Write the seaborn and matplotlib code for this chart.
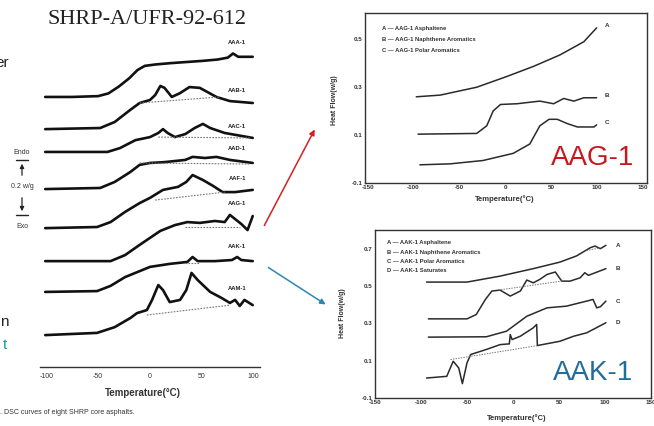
import matplotlib
matplotlib.use("Agg")
import matplotlib.pyplot as plt
from matplotlib.patches import FancyArrowPatch
from matplotlib.lines import Line2D
from matplotlib.ticker import MultipleLocator
import seaborn as sns

# --- Left panel: DSC curves of eight SHRP core asphalts (stacked, w/g) ---
core_names = ["AAA-1", "AAB-1", "AAC-1", "AAD-1", "AAF-1", "AAG-1", "AAK-1", "AAM-1"]

aaa_t = [-101, -75, -50, -40, -30, -20, -12, -5, 5, 20, 35, 50, 65, 75, 80, 85, 99]
aaa_hf = [0.982, 0.982, 0.985, 0.995, 1.02, 1.05, 1.08, 1.095, 1.1, 1.105, 1.109, 1.113, 1.118, 1.125, 1.14, 1.128, 1.128]
aab_t = [-101, -48, -34, -19, -10, 0, 5, 10, 14, 21, 29, 38, 48, 64, 77, 99]
aab_hf = [0.865, 0.869, 0.891, 0.935, 0.96, 0.971, 0.989, 1.022, 1.015, 0.982, 0.996, 1.018, 1.015, 0.982, 0.967, 0.96]
aac_t = [-101, -41, -29, -14, 0, 8, 12.5, 17, 24, 34, 43, 51, 58, 72, 99]
aac_hf = [0.782, 0.782, 0.796, 0.825, 0.836, 0.851, 0.865, 0.851, 0.836, 0.847, 0.869, 0.884, 0.869, 0.851, 0.833]
aad_t = [-101, -48, -34, -19, -10, 0, 14, 34, 41, 53, 64, 77, 99]
aad_hf = [0.647, 0.651, 0.673, 0.709, 0.735, 0.742, 0.745, 0.753, 0.764, 0.760, 0.764, 0.753, 0.742]
aaf_t = [-101, -51, -38, -24, -10, 0, 12.5, 27, 35, 41, 51, 61, 70, 82, 99]
aaf_hf = [0.505, 0.509, 0.527, 0.564, 0.596, 0.615, 0.644, 0.655, 0.673, 0.698, 0.68, 0.658, 0.636, 0.636, 0.644]
aag_t = [-101, -38, -24, -10, 10, 24, 36, 48, 62.5, 72, 77, 83, 88, 94, 99]
aag_hf = [0.385, 0.385, 0.407, 0.444, 0.495, 0.516, 0.527, 0.524, 0.531, 0.527, 0.553, 0.535, 0.520, 0.498, 0.549]
aak_t = [-101, -51, -38, -24, 0, 19, 36, 41, 46, 62.5, 79, 84, 88, 99]
aak_hf = [0.273, 0.276, 0.295, 0.327, 0.364, 0.375, 0.382, 0.4, 0.385, 0.385, 0.389, 0.4, 0.389, 0.385]
aam_t = [-101, -51, -34, -19, -12.5, -3, 2, 8, 12.5, 19, 29, 35, 40, 46, 58, 69, 77, 82, 86.5, 91, 99]
aam_hf = [0.116, 0.124, 0.145, 0.178, 0.196, 0.207, 0.244, 0.298, 0.28, 0.236, 0.244, 0.28, 0.342, 0.316, 0.273, 0.251, 0.233, 0.244, 0.222, 0.244, 0.225]

core_t = [aaa_t, aab_t, aac_t, aad_t, aaf_t, aag_t, aak_t, aam_t]
core_hf = [aaa_hf, aab_hf, aac_hf, aad_hf, aaf_hf, aag_hf, aak_hf, aam_hf]

# dashed baselines under the peaks (start/end temperature and heat flow), None = no baseline
core_base_t = [None, [-10, 67], [8, 96], [-10, 96], [5, 72], [34, 87], [34, 48], [-3, 77]]
core_base_hf = [None, [0.96, 0.982], [0.836, 0.833], [0.742, 0.738], [0.607, 0.636],
                [0.509, 0.509], [0.378, 0.378], [0.189, 0.225]]

# --- AAG-1 fractions ---
aag_names = ["A", "B", "C"]
aag_legend = ["AAG-1 Asphaltene", "AAG-1 Naphthene Aromatics", "AAG-1 Polar Aromatics"]
aag_a_t = [-97, -71, -31, 2, 31, 60, 86, 100]
aag_a_hf = [0.26, 0.267, 0.30, 0.345, 0.387, 0.435, 0.49, 0.548]
aag_b_t = [-95, -31, -20, -13, -5, 13, 31, 38, 53, 64, 75, 86, 100]
aag_b_hf = [0.104, 0.107, 0.139, 0.201, 0.228, 0.231, 0.239, 0.242, 0.231, 0.253, 0.242, 0.256, 0.256]
aag_c_t = [-93, -60, -24, 9, 27, 38, 48, 57, 68, 79, 97, 100]
aag_c_hf = [-0.024, -0.020, -0.006, 0.024, 0.063, 0.139, 0.166, 0.166, 0.148, 0.134, 0.134, 0.143]
aag_frac_t = [aag_a_t, aag_b_t, aag_c_t]
aag_frac_hf = [aag_a_hf, aag_b_hf, aag_c_hf]

# --- AAK-1 fractions ---
aak_names = ["A", "B", "C", "D"]
aak_legend = ["AAK-1 Asphaltene", "AAK-1 Naphthene Aromatics", "AAK-1 Polar Aromatics", "AAK-1 Saturates"]
aak_a_t = [-94, -50, -14, 22, 51, 69, 84, 89, 95, 101]
aak_a_hf = [0.521, 0.521, 0.553, 0.593, 0.628, 0.661, 0.705, 0.714, 0.70, 0.718]
aak_b_t = [-92, -50, -40, -30, -23, -14, -3, 8, 15, 22, 29, 37, 46, 53, 62, 73, 78, 82, 101]
aak_b_hf = [0.324, 0.324, 0.347, 0.428, 0.473, 0.478, 0.446, 0.473, 0.532, 0.517, 0.535, 0.562,
            0.575, 0.526, 0.526, 0.544, 0.571, 0.557, 0.593]
aak_c_t = [-92, -29, -7, 15, 37, 58, 80, 87, 91, 95, 101]
aak_c_hf = [0.226, 0.228, 0.258, 0.338, 0.383, 0.392, 0.419, 0.428, 0.383, 0.389, 0.419]
aak_d_t = [-94, -72, -65, -59, -55, -50, -46, -29, -14, -4, -3, -1, 8, 22, 25.7, 26.5, 51, 66, 80, 101]
aak_d_hf = [0.007, 0.016, 0.097, 0.061, -0.023, 0.088, 0.133, 0.160, 0.186, 0.19, 0.24, 0.213,
            0.231, 0.276, 0.294, 0.181, 0.204, 0.231, 0.249, 0.303]
aak_frac_t = [aak_a_t, aak_b_t, aak_c_t, aak_d_t]
aak_frac_hf = [aak_a_hf, aak_b_hf, aak_c_hf, aak_d_hf]
aak_base_t = [[80, 95], [-16, 58], None, [-68, 27]]
aak_base_hf = [[0.69, 0.705], [0.478, 0.530], None, [0.106, 0.181]]

W, H = 654, 426


def fx(px):
    return px / W


def fy(py):
    return 1 - py / H


def box(l, t, r, b):
    return [fx(l), fy(b), fx(r) - fx(l), fy(t) - fy(b)]


sns.set_style("white")
plt.rcParams["font.family"] = ["Liberation Sans", "DejaVu Sans"]
plt.rcParams["axes.unicode_minus"] = False

fig = plt.figure(figsize=(W / 100, H / 100), dpi=100)
fig.patch.set_facecolor("white")

# ---------------- left panel ----------------
axL = fig.add_axes(box(40, 40, 260, 367))
axL.patch.set_alpha(0)
for i, name in enumerate(core_names):
    sns.lineplot(x=core_t[i], y=core_hf[i], ax=axL, color="#111111", linewidth=1.9,
                 estimator=None, sort=False)
    if core_base_t[i] is not None:
        axL.plot(core_base_t[i], core_base_hf[i], color="#777777", lw=0.8, ls=(0, (1.5, 1.2)))
    tail = [v for t, v in zip(core_t[i], core_hf[i]) if t > 75]
    axL.text(84, max(tail) + 0.04, name, fontsize=4.2, fontweight="bold", ha="center",
             va="center", color="#222222")
axL.set_xlim(-106, 106)
axL.set_ylim(0, 327 / 275)
for s in ["top", "left", "right"]:
    axL.spines[s].set_visible(False)
axL.spines["bottom"].set_linewidth(1.0)
axL.spines["bottom"].set_color("#333333")
axL.set_yticks([])
axL.set_xticks([-100, -50, 0, 50, 100])
axL.xaxis.set_minor_locator(MultipleLocator(25))
axL.tick_params(axis="x", which="both", direction="inout", length=4, width=0.8,
                labelsize=5, pad=2, colors="#333333")
axL.set_xlabel("")
axL.set_ylabel("")
fig.text(fx(143), fy(393), "Temperature(°C)", fontsize=7, fontweight="bold",
         ha="center", va="center", color="#333333")
fig.text(fx(0), fy(412), ". DSC curves of eight SHRP core asphalts.", fontsize=5,
         ha="left", va="center", color="#333333")
fig.text(fx(147), fy(20), "SHRP-A/UFR-92-612", fontsize=16, ha="center", va="center",
         family=["Liberation Serif", "DejaVu Serif"], color="#222222")

# scale bar (Endo / 0.2 w/g / Exo)
fig.text(fx(22), fy(152), "Endo", fontsize=5, ha="center", va="center", color="#333333")
fig.text(fx(22), fy(186), "0.2 w/g", fontsize=5, ha="center", va="center", color="#333333")
fig.text(fx(22), fy(226), "Exo", fontsize=5, ha="center", va="center", color="#333333")
for yb in [160, 215]:
    fig.add_artist(Line2D([fx(16), fx(28)], [fy(yb), fy(yb)], color="#222222", lw=1.0))
fig.add_artist(FancyArrowPatch((fx(22), fy(178)), (fx(22), fy(161)), transform=fig.transFigure,
                               arrowstyle="-|>", mutation_scale=6, color="#222222", lw=0.9))
fig.add_artist(FancyArrowPatch((fx(22), fy(195)), (fx(22), fy(214)), transform=fig.transFigure,
                               arrowstyle="-|>", mutation_scale=6, color="#222222", lw=0.9))

# cut-off slide text on the left edge
fig.text(fx(9), fy(63), "er", fontsize=11, ha="right", va="center", color="#222222")
fig.text(fx(9), fy(322), "n", fontsize=11, ha="right", va="center", color="#222222")
fig.text(fx(7), fy(345), "t", fontsize=11, ha="right", va="center", color="#1a9e8f")


def style_panel(ax, yticks):
    ax.set_xticks([-150, -100, -50, 0, 50, 100, 150])
    ax.xaxis.set_minor_locator(MultipleLocator(25))
    ax.set_yticks(yticks)
    ax.set_yticklabels([f"{v:g}" for v in yticks])
    ax.tick_params(which="both", direction="in", length=2.5, width=0.7, labelsize=4.5,
                   pad=1.5, colors="#333333")
    for lab in ax.get_xticklabels() + ax.get_yticklabels():
        lab.set_fontweight("bold")
    for s in ax.spines.values():
        s.set_linewidth(1.0)
        s.set_color("#333333")
    ax.set_xlabel("")
    ax.set_ylabel("")


# ---------------- AAG-1 panel ----------------
axG = fig.add_axes(box(365, 13, 647, 183))
for i, lab in enumerate(aag_names):
    sns.lineplot(x=aag_frac_t[i], y=aag_frac_hf[i], ax=axG, color="#2a2a2a", linewidth=1.1,
                 estimator=None, sort=False)
    axG.text(aag_frac_t[i][-1] + 11, aag_frac_hf[i][-1] + 0.01, lab, fontsize=4.5,
             fontweight="bold", ha="center", va="center", color="#333333")
    axG.text(0.06, 0.906 - i * 0.062, f"{lab} — {aag_legend[i]}", transform=axG.transAxes,
             fontsize=4.2, fontweight="bold", ha="left", va="center", color="#333333")
axG.set_xlim(-153, 155)
axG.set_ylim(-0.1, 0.61)
style_panel(axG, [-0.1, 0.1, 0.3, 0.5])
fig.text(fx(335), fy(100), "Heat Flow(w/g)", rotation=90, fontsize=5, fontweight="bold",
         ha="center", va="center", color="#333333")
fig.text(fx(505), fy(199), "Temperature(°C)", fontsize=5.5, fontweight="bold",
         ha="center", va="center", color="#333333")
fig.text(fx(593), fy(158), "AAG-1", fontsize=20, color="#c8171e", ha="center", va="center")

# ---------------- AAK-1 panel ----------------
axK = fig.add_axes(box(375, 230, 651, 398))
for i, lab in enumerate(aak_names):
    sns.lineplot(x=aak_frac_t[i], y=aak_frac_hf[i], ax=axK, color="#2a2a2a", linewidth=1.1,
                 estimator=None, sort=False)
    if aak_base_t[i] is not None:
        axK.plot(aak_base_t[i], aak_base_hf[i], color="#777777", lw=0.7, ls=(0, (1.5, 1.2)))
    axK.text(aak_frac_t[i][-1] + 13, aak_frac_hf[i][-1], lab, fontsize=4.5,
             fontweight="bold", ha="center", va="center", color="#333333")
    axK.text(0.043, 0.923 - i * 0.054, f"{lab} — {aak_legend[i]}", transform=axK.transAxes,
             fontsize=4.2, fontweight="bold", ha="left", va="center", color="#333333")
axK.set_xlim(-150, 150)
axK.set_ylim(-0.1, 0.8)
style_panel(axK, [-0.1, 0.1, 0.3, 0.5, 0.7])
fig.text(fx(343), fy(313), "Heat Flow(w/g)", rotation=90, fontsize=5, fontweight="bold",
         ha="center", va="center", color="#333333")
fig.text(fx(517), fy(418), "Temperature(°C)", fontsize=5.5, fontweight="bold",
         ha="center", va="center", color="#333333")
fig.text(fx(593), fy(373), "AAK-1", fontsize=20, color="#1f6e9c", ha="center", va="center")

# arrows from the AAG-1 / AAK-1 curves to the fraction panels
fig.add_artist(FancyArrowPatch((fx(263), fy(228)), (fx(316), fy(127)), transform=fig.transFigure,
                               arrowstyle="-|>", mutation_scale=8, color="#d62020", lw=1.1))
fig.add_artist(FancyArrowPatch((fx(266), fy(266)), (fx(328), fy(306)), transform=fig.transFigure,
                               arrowstyle="-|>", mutation_scale=8, color="#2e86b0", lw=1.1))

fig.savefig("out.png", dpi=100)
plt.close(fig)
